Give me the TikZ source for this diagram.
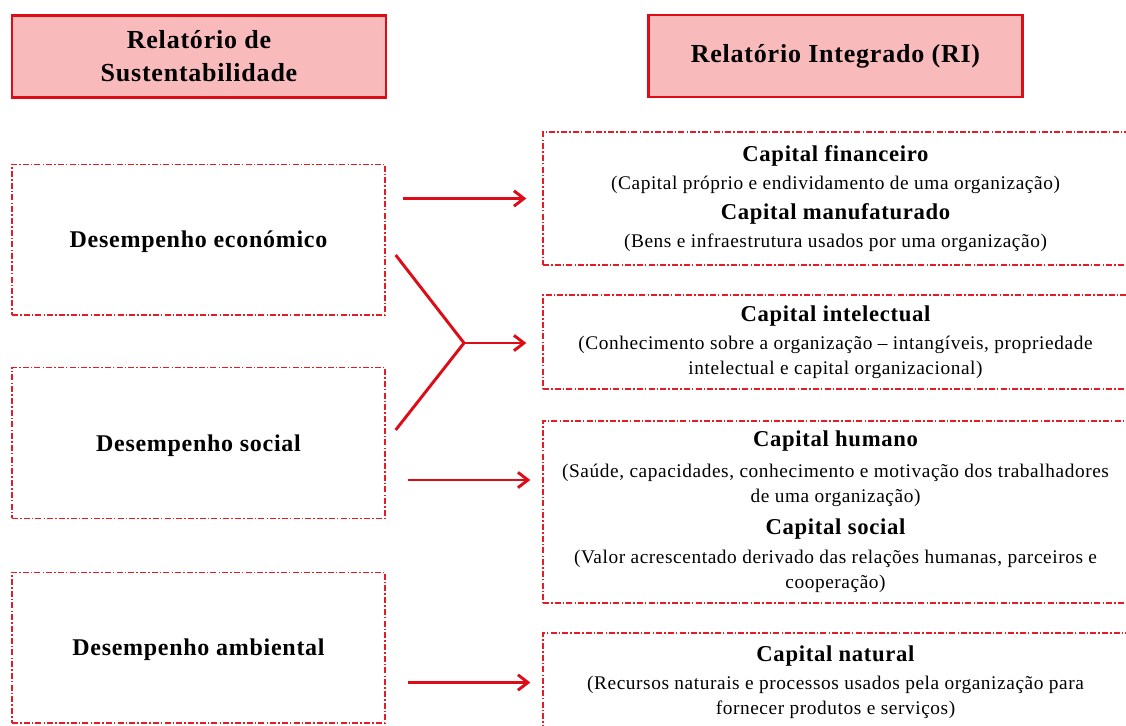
\documentclass[tikz,border=0pt]{standalone}
\usepackage{fontspec}
\setmainfont{Liberation Serif}[LetterSpace=3]
\usetikzlibrary{arrows.meta, positioning, calc}
\definecolor{vermelho}{RGB}{222,12,22}
\definecolor{rosa}{RGB}{249,186,187}
\definecolor{traco}{RGB}{228,28,38}

\newcommand{\titulo}[1]{{\fontsize{17}{21}\selectfont\bfseries #1}}

\tikzset{
  cabecalho/.style={draw=vermelho, line width=1.6pt, fill=rosa, minimum width=280.5pt, minimum height=61.5pt,
    align=center, font=\fontsize{19.5}{24.75}\selectfont\bfseries},
  tracejado/.style={draw=traco, line width=1pt, dash pattern=on 4.5pt off 1.6pt on 1.1pt off 1.6pt},
  desempenho/.style={tracejado, minimum width=279.75pt, minimum height=113pt, text depth=0pt,
    font=\fontsize{18}{21}\selectfont\bfseries},
  capital/.style={tracejado, minimum width=438.75pt, align=center, font=\fontsize{14.5}{21}\selectfont},
  seta/.style={vermelho, line width=2.2pt, -{Straight Barb[length=7.5pt,width=11.5pt]}},
  linha/.style={vermelho, line width=2.2pt}
}

\begin{document}
\begin{tikzpicture}[x=0.75pt, y=-0.75pt]
\clip (0,0) rectangle (1126,725);

% cabecalhos
\node[cabecalho] (sust) at (199,56.5) {Relatório de\\Sustentabilidade};
\node[cabecalho] (ri) at (835.5,56) {Relatório Integrado (RI)};

% desempenho (esquerda)
\node[desempenho] (eco) at (198.5,239.5) {Desempenho económico};
\node[desempenho] (soc) at (198.5,443) {Desempenho social};
\node[desempenho] (amb) at (198.5,647.5) {Desempenho ambiental};

% capitais (direita)
\node[capital, minimum height=99.75pt] (fin) at (835.5,198.5) {%
  \titulo{Capital financeiro}\\
  (Capital próprio e endividamento de uma organização)\\[1pt]
  \titulo{Capital manufaturado}\\
  (Bens e infraestrutura usados por uma organização)};
\node[capital, minimum height=70.5pt] (int) at (835.5,342) {%
  \titulo{Capital intelectual}\\
  (Conhecimento sobre a organização -- intangíveis, propriedade\\[-2.25pt]
  intelectual e capital organizacional)};
\node[capital, minimum height=136.5pt] (hum) at (835.5,512) {%
  \titulo{Capital humano}\\[2pt]
  (Saúde, capacidades, conhecimento e motivação dos trabalhadores\\[-2.25pt]
  de uma organização)\\[3pt]
  \titulo{Capital social}\\[1pt]
  (Valor acrescentado derivado das relações humanas, parceiros e\\[-2.25pt]
  cooperação)};
\node[capital, minimum height=74.25pt] (nat) at (835.5,682.5) {%
  \titulo{Capital natural}\\
  (Recursos naturais e processos usados pela organização para\\[-2.25pt]
  fornecer produtos e serviços)};

% setas
\draw[seta, shorten <=12.75pt, shorten >=12pt] (eco.east |- fin.west) -- (fin.west);
\coordinate (juncao) at (464,343);
\draw[linha] ([shift={(10,15.5)}]eco.east) -- (juncao);
\draw[linha] ([shift={(10,-13)}]soc.east) -- (juncao);
\draw[seta, shorten >=12pt] (juncao) -- (juncao -| int.west);
\coordinate (alvo) at ($(hum.west)+(0,-32)$);
\draw[seta, shorten <=16.5pt, shorten >=9pt] (soc.east |- alvo) -- (alvo);
\draw[seta, shorten <=16.5pt, shorten >=9pt] (amb.east |- nat.west) -- (nat.west);
\end{tikzpicture}
\end{document}
